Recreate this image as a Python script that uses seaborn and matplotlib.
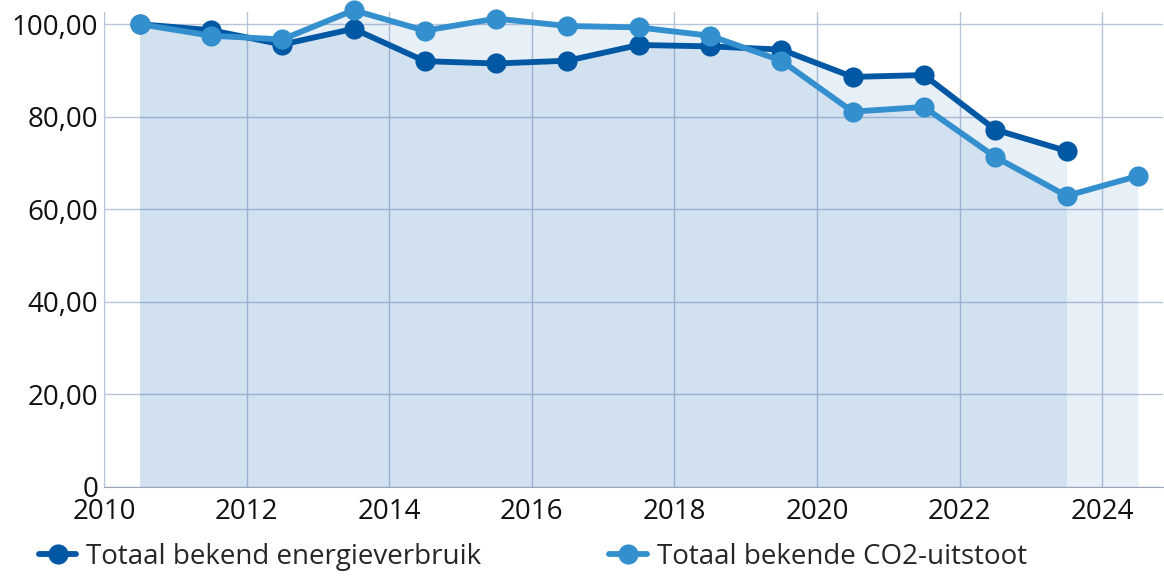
import pandas as pd
import numpy as np
import matplotlib.pyplot as plt
import seaborn as sns
from matplotlib.ticker import FuncFormatter

years = [2010.5, 2011.5, 2012.5, 2013.5, 2014.5, 2015.5, 2016.5, 2017.5,
         2018.5, 2019.5, 2020.5, 2021.5, 2022.5, 2023.5, 2024.5]
energie = [100.0, 98.7, 95.6, 99.0, 92.0, 91.5, 92.1, 95.5,
           95.2, 94.5, 88.6, 89.0, 77.2, 72.6, np.nan]
co2 = [100.0, 97.5, 96.7, 103.0, 98.6, 101.2, 99.6, 99.3,
       97.5, 92.1, 81.1, 82.1, 71.3, 62.9, 67.2]
labels = ['Totaal bekend energieverbruik', 'Totaal bekende CO2-uitstoot']
colors = ['#0057a3', '#338fcd']

df = pd.DataFrame({'jaar': years, labels[0]: energie, labels[1]: co2})
long = df.melt(id_vars='jaar', var_name='reeks', value_name='waarde').dropna()

sns.set_style('white')
plt.rcParams['font.family'] = ['Open Sans', 'DejaVu Sans']

fig = plt.figure(figsize=(11.64, 5.77), dpi=100)
ax = fig.add_axes([0.0893, 0.156, 0.9097, 0.823])

for lab, col in zip(labels, colors):
    d = long[long.reeks == lab]
    ax.fill_between(d.jaar, d.waarde, 0, color='#1969b9', alpha=0.1, lw=0, zorder=1)

sns.lineplot(data=long, x='jaar', y='waarde', hue='reeks', palette=colors,
             hue_order=labels, marker='o', markersize=14.5, markeredgewidth=0,
             linewidth=4.2, ax=ax, legend=False, zorder=3, clip_on=False)

ax.set_xlim(2010, 2024.85)
ax.set_ylim(0, 102.6)
ax.set_xticks(range(2010, 2025, 2))
ax.set_yticks(range(0, 101, 20))
ax.yaxis.set_major_formatter(FuncFormatter(lambda v, p: '0' if v == 0 else f'{v:.2f}'.replace('.', ',')))
ax.grid(True, color='#b8c4d8', linewidth=1)
ax.set_axisbelow(True)
for s in ['top', 'right']:
    ax.spines[s].set_visible(False)
ax.spines['left'].set_color('#b8c4d8')
ax.spines['bottom'].set_color('#9aa6b8')
ax.tick_params(axis='both', length=0, labelsize=20, colors='#111111')
ax.tick_params(axis='y', pad=4)
ax.tick_params(axis='x', pad=8)
ax.set_xlabel('')
ax.set_ylabel('')

handles = [plt.Line2D([], [], color=c, marker='o', markersize=14.5, markeredgewidth=0, linewidth=4.2)
           for c in colors]
fig.legend(handles, labels, loc='center left', bbox_to_anchor=(0.012, 0.035), ncol=2,
           frameon=False, fontsize=20, handlelength=1.35, handletextpad=0.36,
           columnspacing=4.6)

plt.savefig('out.png', dpi=100)
